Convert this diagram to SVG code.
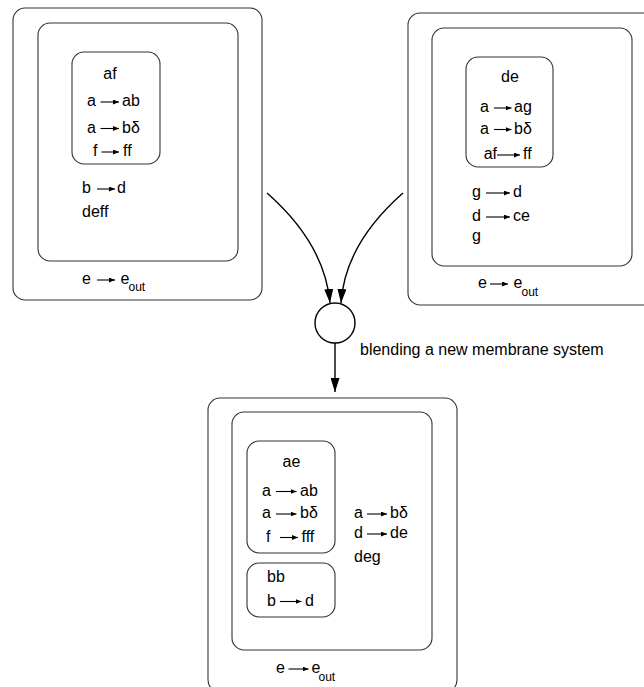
<svg xmlns="http://www.w3.org/2000/svg" width="644" height="687" viewBox="0 0 644 687">
<style>
.box{fill:none;stroke:#333;stroke-width:1.1}
text{font-family:"Liberation Sans",Arial,sans-serif;font-size:16px;fill:#000}
.sub{font-size:12px}
.ta{stroke:#000;stroke-width:1.1;fill:none;marker-end:url(#ta)}
.con{stroke:#000;stroke-width:1.4;fill:none;marker-end:url(#ba)}
</style>
<defs>
<marker id="ta" markerUnits="userSpaceOnUse" markerWidth="6" markerHeight="5" refX="6" refY="2.5" orient="auto"><path d="M0,0 L6,2.5 L0,5 z" fill="#000"/></marker>
<marker id="ba" markerUnits="userSpaceOnUse" markerWidth="14" markerHeight="9" refX="14" refY="4.5" orient="auto"><path d="M0,0 L14,4.5 L0,9 z" fill="#000"/></marker>
</defs>
<rect width="644" height="687" fill="#fff"/>

<g id="system-left">
<rect class="box" x="13" y="8" width="249" height="292" rx="12"/>
<rect class="box" x="38" y="23" width="200" height="238" rx="12"/>
<rect class="box" x="72" y="52" width="88" height="112" rx="12"/>
<text x="110" y="79" text-anchor="middle">af</text>
<text x="87" y="106">a</text><path class="ta" d="M100.5,102 H119"/><text x="122" y="106">ab</text>
<text x="87" y="132.5">a</text><path class="ta" d="M100.5,128.5 H119"/><text x="122" y="132.5">bδ</text>
<text x="93" y="156">f</text><path class="ta" d="M101.5,152 H119"/><text x="123" y="156">ff</text>
<text x="82" y="193">b</text><path class="ta" d="M97,189 H115"/><text x="117" y="193">d</text>
<text x="82" y="217">deff</text>
<text x="82" y="284">e</text><path class="ta" d="M97,280 H115"/><text x="120.5" y="284">e</text><text class="sub" x="128.5" y="290.5">out</text>
</g>

<g id="system-right">
<rect class="box" x="408" y="13" width="260" height="292" rx="12"/>
<rect class="box" x="432" y="28" width="200" height="238" rx="12"/>
<rect class="box" x="466" y="57" width="87" height="110" rx="12"/>
<text x="510" y="82" text-anchor="middle">de</text>
<text x="480" y="112">a</text><path class="ta" d="M494,108 H511.5"/><text x="514" y="112">ag</text>
<text x="480" y="133.5">a</text><path class="ta" d="M494,129.5 H511.5"/><text x="514" y="133.5">bδ</text>
<text x="497" y="159" text-anchor="end">af</text><path class="ta" d="M497,155 H520"/><text x="523" y="159">ff</text>
<text x="472" y="197">g</text><path class="ta" d="M486,193 H510"/><text x="513" y="197">d</text>
<text x="472" y="221">d</text><path class="ta" d="M486,217 H510"/><text x="513" y="221">ce</text>
<text x="472" y="241">g</text>
<text x="478" y="288">e</text><path class="ta" d="M490,284 H508"/><text x="513.5" y="288">e</text><text class="sub" x="521.5" y="296">out</text>
</g>

<g id="blend">
<circle cx="335" cy="323" r="20" fill="#fff" stroke="#000" stroke-width="1.4"/>
<text x="360" y="355">blending a new membrane system</text>
</g>

<g id="system-result">
<rect class="box" x="208" y="398" width="249" height="294" rx="12"/>
<rect class="box" x="232" y="412" width="200" height="238" rx="12"/>
<rect class="box" x="247" y="441" width="88" height="112" rx="12"/>
<rect class="box" x="247" y="563" width="88" height="54" rx="12"/>
<text x="291.5" y="466.5" text-anchor="middle">ae</text>
<text x="262" y="495.5">a</text><path class="ta" d="M276,491.5 H296.5"/><text x="300" y="495.5">ab</text>
<text x="262" y="518">a</text><path class="ta" d="M276,514 H296.5"/><text x="300" y="518">bδ</text>
<text x="266" y="541.5">f</text><path class="ta" d="M280,537.5 H298"/><text x="301.5" y="541.5">fff</text>
<text x="267" y="581.5">bb</text>
<text x="267" y="605.5">b</text><path class="ta" d="M280,601.5 H301.5"/><text x="305" y="605.5">d</text>
<text x="354" y="518">a</text><path class="ta" d="M367,514 H387"/><text x="390" y="518">bδ</text>
<text x="354" y="538">d</text><path class="ta" d="M367,534 H387"/><text x="390" y="538">de</text>
<text x="354" y="562">deg</text>
<text x="276" y="673">e</text><path class="ta" d="M288.5,669 H308.5"/><text x="311.5" y="673">e</text><text class="sub" x="318.5" y="681">out</text>
</g>

<g id="connectors">
<path class="con" d="M267,193 C300,222 326,258 330,303"/>
<path class="con" d="M403,193 C370,222 344,258 341,303"/>
<path class="con" d="M335,343 V392"/>
</g>
</svg>
